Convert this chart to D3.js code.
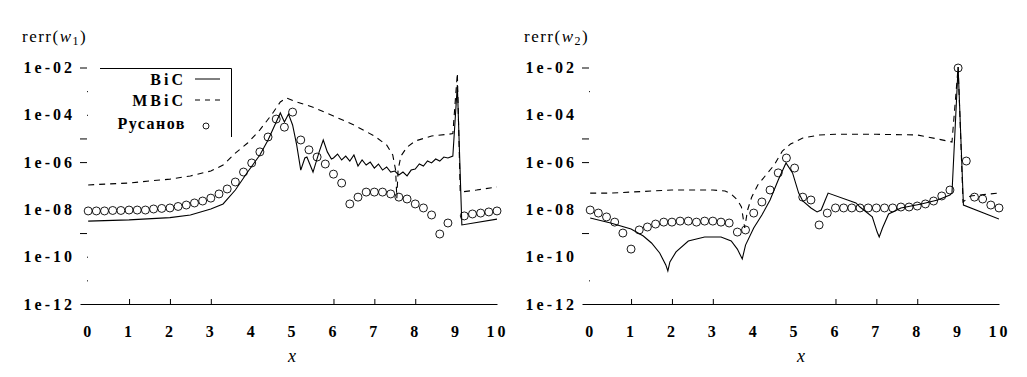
<!DOCTYPE html>
<html>
<head>
<meta charset="utf-8">
<script src="https://cdn.jsdelivr.net/npm/d3@7"></script>
<style>
    body { margin: 0; background: #fff; }
    svg text { font-family: "Liberation Serif", "Times New Roman", serif; fill: #000; }
    .lbl text { font-size: 16px; font-weight: bold; letter-spacing: 3px; }
</style>
</head>
<body>
<svg id="chart" width="1027" height="377"></svg>
<script>
// tick labels
const xTicks = [0, 1, 2, 3, 4, 5, 6, 7, 8, 9, 10];
const xTickMarks = [1, 2, 3, 6, 7, 8];
const yTicks = [1e-12, 1e-10, 1e-8, 1e-6, 1e-4, 1e-2];
const yTickLabels = ["1e-12", "1e-10", "1e-08", "1e-06", "1e-04", "1e-02"];
const seriesNames = ["BiC", "MBiC", "Русанов"];

// rerr(w1)
const bic1X = [0, 1, 2, 2.5, 3, 3.3, 3.6, 3.9, 4.2, 4.4, 4.6, 4.7, 4.8, 4.9, 5.0, 5.1, 5.2, 5.3, 5.35, 5.5,
    5.65, 5.75, 5.85, 5.95, 6.0, 6.1, 6.2, 6.3, 6.4, 6.5, 6.6, 6.7, 6.8, 6.9, 7.0, 7.1, 7.2, 7.3, 7.4, 7.5,
    7.6, 7.7, 7.8, 7.9, 8.0, 8.1, 8.2, 8.3, 8.4, 8.5, 8.6, 8.7, 8.8, 8.92, 9.03, 9.14, 10];
const bic1Y = [3.2e-9, 3.6e-9, 4.5e-9, 5.8e-9, 1.04e-8, 1.7e-8, 6.6e-8, 3.8e-7, 2.0e-6, 8.6e-6, 5.0e-5, 1.2e-4,
    5.0e-5, 1.08e-4, 3.7e-5, 5.3e-6, 4.6e-7, 1.49e-6, 1.64e-6, 3.8e-7, 2.7e-6, 8.6e-6, 2.7e-6, 1.35e-6, 1.49e-6,
    2.2e-6, 1.23e-6, 1.8e-6, 1.11e-6, 2.0e-6, 6.8e-7, 1.23e-6, 7.5e-7, 1.0e-6, 5.6e-7, 8.3e-7, 4.6e-7, 6.2e-7,
    3.8e-7, 4.2e-7, 2.85e-7, 3.8e-7, 2.6e-7, 4.6e-7, 5.1e-7, 8.3e-7, 6.8e-7, 1.11e-6, 9.2e-7, 1.35e-6, 1.11e-6,
    1.64e-6, 1.49e-6, 1.8e-6, 1.8e-3, 2.2e-9, 3.9e-9];
const mbic1X = [0, 0.5, 1, 1.5, 2, 2.5, 3, 3.3, 3.6, 3.9, 4.2, 4.5, 4.7, 4.85, 5.1, 5.5, 6, 6.5, 7, 7.3,
    7.45, 7.52, 7.55, 7.58, 7.65, 7.8, 8, 8.4, 8.8, 8.92, 9.03, 9.1, 9.5, 10];
const mbic1Y = [1.08e-7, 1.19e-7, 1.3e-7, 1.6e-7, 1.9e-7, 2.6e-7, 4.2e-7, 7.5e-7, 2.4e-6, 6.4e-6, 2.3e-5,
    1.08e-4, 3.5e-4, 5.1e-4, 3.5e-4, 2.1e-4, 8.9e-5, 3.7e-5, 1.27e-5, 5.3e-6, 2.0e-6, 4.6e-7, 3.0e-8, 4.6e-7,
    1.8e-6, 4.3e-6, 7.8e-6, 1.27e-5, 1.5e-5, 1.6e-5, 5.8e-3, 5.4e-8, 6.6e-8, 8.9e-8];

// Rusanov points, same grid on both panels
const rusX = [0, 0.2, 0.4, 0.6, 0.8, 1, 1.2, 1.4, 1.6, 1.8, 2, 2.2, 2.4, 2.6, 2.8, 3, 3.2, 3.4, 3.6, 3.8,
    4, 4.2, 4.4, 4.6, 4.8, 5, 5.2, 5.4, 5.6, 5.8, 6, 6.2, 6.4, 6.6, 6.8, 7, 7.2, 7.4, 7.6, 7.8,
    8, 8.2, 8.4, 8.6, 8.8, 9, 9.2, 9.4, 9.6, 9.8, 10];
const rus1Y = [8.6e-9, 8.6e-9, 8.6e-9, 9.0e-9, 9.0e-9, 9.4e-9, 9.4e-9, 9.4e-9, 1.04e-8, 1.1e-8,
    1.15e-8, 1.33e-8, 1.53e-8, 1.87e-8, 2.26e-8, 3.0e-8, 4.5e-8, 7.3e-8, 1.44e-7, 3.8e-7,
    9.2e-7, 2.7e-6, 1.15e-5, 6.6e-5, 3.0e-5, 1.3e-4, 8.6e-6, 3.3e-6, 1.64e-6, 8.3e-7,
    3.1e-7, 1.3e-7, 1.7e-8, 3.3e-8, 5.4e-8, 5.4e-8, 5.4e-8, 4.5e-8, 3.3e-8, 2.75e-8,
    1.7e-8, 1.15e-8, 5.8e-9, 9.1e-10, 2.66e-9, null, 5.3e-9, 6.4e-9, 7.0e-9, 7.8e-9, 8.6e-9];

// rerr(w2)
const bic2X = [0, 0.5, 1, 1.3, 1.5, 1.7, 1.85, 1.9, 1.95, 2.1, 2.4, 2.8, 3.2, 3.45, 3.6, 3.72, 3.8, 4.0, 4.2, 4.4,
    4.6, 4.79, 4.95, 5.1, 5.2, 5.4, 5.55, 5.65, 5.75, 5.82, 6.5, 6.6, 6.9, 7.02, 7.07, 7.15, 7.3, 7.6, 8.1, 8.5,
    8.8, 8.85, 9.0, 9.13, 10];
const bic2Y = [4.3e-9, 2.66e-9, 1.48e-9, 7.5e-10, 3.8e-10, 1.43e-10, 4.5e-11, 2.5e-11, 6.0e-11, 1.6e-10,
    4.6e-10, 6.8e-10, 6.8e-10, 4.6e-10, 2.1e-10, 8.0e-11, 3.1e-10, 1.64e-9, 5.8e-9, 2.5e-8,
    1.75e-7, 9.2e-7, 3.5e-7, 4.9e-8, 2.26e-8, 1.15e-8, 7.8e-9, 9.4e-9, 2.5e-8, 4.9e-8,
    1.87e-8, 1.26e-8, 4.8e-9, 1.1e-9, 6.8e-10, 1.64e-9, 6.4e-9, 1.15e-8, 1.7e-8, 2.5e-8,
    4.1e-8, 4.9e-8, 1.05e-2, 1.53e-8, 3.9e-9];
const mbic2X = [0, 0.5, 1, 1.5, 2, 2.5, 3, 3.3, 3.45, 3.6, 3.7, 3.78, 3.85, 3.95, 4.1, 4.3, 4.5, 4.7, 4.9, 5.2,
    5.6, 6, 7, 8, 8.5, 8.85, 9.0, 9.12, 9.3, 10];
const mbic2Y = [4.9e-8, 4.9e-8, 5.4e-8, 6.0e-8, 6.6e-8, 6.6e-8, 6.6e-8, 6.0e-8, 4.5e-8, 2.5e-8,
    1.26e-8, 1.64e-9, 9.4e-9, 3.3e-8, 1.08e-7, 2.85e-7, 7.5e-7, 2.9e-6, 5.8e-6, 1.04e-5,
    1.4e-5, 1.5e-5, 1.5e-5, 1.4e-5, 9.5e-6, 7.1e-6, 1.05e-2, 2.06e-8, 3.7e-8, 4.9e-8];
const rus2Y = [9.4e-9, 7.0e-9, 4.8e-9, 2.9e-9, 1.0e-9, 2.1e-10, 1.35e-9, 1.8e-9, 2.4e-9, 2.9e-9,
    2.9e-9, 3.2e-9, 3.2e-9, 2.9e-9, 3.2e-9, 3.2e-9, 2.9e-9, 2.66e-9, 1.1e-9, 1.35e-9,
    7.0e-9, 2.06e-8, 6.6e-8, 3.5e-7, 1.49e-6, 5.6e-7, 3.3e-8, 2.5e-8, 2.2e-9, 7.0e-9,
    1.15e-8, 1.15e-8, 1.15e-8, 1.15e-8, 1.15e-8, 1.15e-8, 1.15e-8, 1.15e-8, 1.26e-8, 1.26e-8,
    1.39e-8, 1.7e-8, 2.26e-8, 3.7e-8, 6.6e-8, 9.5e-3, 1.11e-6, 3.3e-8, 2.75e-8, 1.53e-8, 1.15e-8];

const panels = [
    { left: 80, sub: "1", xLabelAt: 292, bicX: bic1X, bicY: bic1Y, mbicX: mbic1X, mbicY: mbic1Y, rusY: rus1Y,
      legend: true, dashTicks: [1e-2, 1e-5, 1e-6, 1e-9], dotTicks: [1e-3, 1e-4, 1e-10, 1e-11] },
    { left: 582, sub: "2", xLabelAt: 801, bicX: bic2X, bicY: bic2Y, mbicX: mbic2X, mbicY: mbic2Y, rusY: rus2Y,
      legend: false, dashTicks: [1e-2, 1e-5, 1e-6, 1e-9], dotTicks: [1e-3, 1e-11] }
];

const plotW = 417, plotTop = 67.5, plotBottom = 304;
const svg = d3.select("#chart");

panels.forEach((p, i) => {
    const x = d3.scaleLinear().domain([-0.2, 10]).range([p.left, p.left + plotW]);
    const y = d3.scaleLog().domain([1e-12, 1e-2]).range([plotBottom, plotTop]);
    const g = svg.append("g");

    // x axis: labels + border line, ticks only where visible in the original
    g.append("g").attr("class", "lbl")
        .attr("transform", `translate(0,${plotBottom})`)
        .call(d3.axisBottom(x).tickValues(xTicks).tickSize(0).tickSizeOuter(0).tickPadding(22)
            .tickFormat(d3.format("d")))
        .call(a => a.select(".domain").attr("stroke", "#000"));
    g.append("g")
        .attr("transform", `translate(0,${plotBottom})`)
        .call(d3.axisBottom(x).tickValues(xTickMarks).tickSize(-5).tickFormat(""))
        .call(a => a.select(".domain").remove());

    // y axis: labels, short ticks inside
    g.append("g").attr("class", "lbl")
        .attr("transform", `translate(${p.left},0)`)
        .call(d3.axisLeft(y).tickValues(yTicks).tickSize(0).tickPadding(5)
            .tickFormat((d, k) => yTickLabels[k]))
        .call(a => a.select(".domain").remove());
    g.append("g")
        .attr("transform", `translate(${p.left},0)`)
        .call(d3.axisLeft(y).tickValues(p.dashTicks).tickSize(-7).tickFormat(""))
        .call(a => a.select(".domain").remove());
    g.append("g")
        .attr("transform", `translate(${p.left},0)`)
        .call(d3.axisLeft(y).tickValues(p.dotTicks).tickSize(-8).tickFormat(""))
        .call(a => a.select(".domain").remove())
        .call(a => a.selectAll(".tick line").attr("stroke-dasharray", "0,7,1,9"));

    // axis titles
    const t = g.append("text").attr("x", p.left - 58).attr("y", 42)
        .style("font-size", "17px").style("letter-spacing", "1.5px");
    t.append("tspan").text("rerr(");
    t.append("tspan").style("font-style", "italic").text("w");
    t.append("tspan").attr("dy", 3).style("font-size", "12px").text(p.sub);
    t.append("tspan").attr("dy", -3).text(")");

    g.append("text").attr("x", p.xLabelAt).attr("y", 362)
        .attr("text-anchor", "middle")
        .style("font-size", "18px").style("font-style", "italic")
        .text("x");

    // curves
    const clipId = "clip" + i;
    g.append("clipPath").attr("id", clipId)
        .append("rect").attr("x", p.left).attr("y", plotTop - 2).attr("width", plotW)
        .attr("height", plotBottom - plotTop + 2);

    const line = d3.line().x(d => x(d[0])).y(d => y(d[1]));
    g.append("path")
        .attr("clip-path", `url(#${clipId})`)
        .attr("d", line(d3.zip(p.bicX, p.bicY)))
        .attr("fill", "none").attr("stroke", "#000").attr("stroke-width", 1.1);
    g.append("path")
        .attr("clip-path", `url(#${clipId})`)
        .attr("d", line(d3.zip(p.mbicX, p.mbicY)))
        .attr("fill", "none").attr("stroke", "#000").attr("stroke-width", 1.1)
        .attr("stroke-dasharray", "6,5");

    g.selectAll(".rus")
        .data(d3.zip(rusX, p.rusY).filter(d => d[1] != null))
        .join("circle")
            .attr("class", "rus")
            .attr("cx", d => x(d[0]))
            .attr("cy", d => y(d[1]))
            .attr("r", 4)
            .attr("fill", "none")
            .attr("stroke", "#000")
            .attr("stroke-width", 0.9);

    if (p.legend) {
        const lg = g.append("g").attr("class", "lbl");
        lg.append("path").attr("d", "M100,68.5H231.5V137").attr("fill", "none").attr("stroke", "#000");
        const rows = [85, 106, 129];
        const mid = [79, 100, 126];
        seriesNames.forEach((name, k) => {
            lg.append("text").attr("x", 186).attr("y", rows[k]).attr("text-anchor", "end")
                .style("letter-spacing", k === 2 ? "1.5px" : "3px").text(name);
        });
        lg.append("line").attr("x1", 195).attr("x2", 220).attr("y1", mid[0]).attr("y2", mid[0])
            .attr("stroke", "#000");
        lg.append("line").attr("x1", 195).attr("x2", 221).attr("y1", mid[1]).attr("y2", mid[1])
            .attr("stroke", "#000").attr("stroke-dasharray", "5,5");
        lg.append("circle").attr("cx", 206).attr("cy", mid[2]).attr("r", 3)
            .attr("fill", "none").attr("stroke", "#000").attr("stroke-width", 0.9);
    }
});
</script>
</body>
</html>
